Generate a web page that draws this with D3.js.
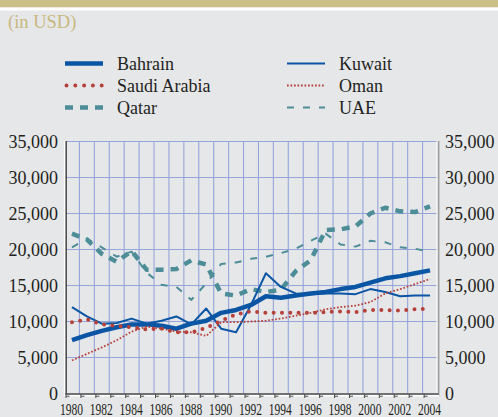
<!DOCTYPE html>
<html>
<head>
<meta charset="utf-8">
<script src="https://cdn.jsdelivr.net/npm/d3@7"></script>
<style>
  body { margin: 0; background: #e6e7e9; }
  svg { display: block; font-family: "Liberation Serif", "Times New Roman", serif; }
</style>
</head>
<body>
<div id="chart"></div>
<script>
// GDP per capita, in USD
var years = [1980, 1981, 1982, 1983, 1984, 1985, 1986, 1987, 1988, 1989, 1990, 1991, 1992,
             1993, 1994, 1995, 1996, 1997, 1998, 1999, 2000, 2001, 2002, 2003, 2004];
var bahrain = [7400, 8100, 8700, 9200, 9600, 9600, 9400, 9000, 9700, 10100, 11200, 11600, 12300,
               13500, 13300, 13600, 13900, 14100, 14500, 14800, 15400, 16000, 16300, 16700, 17100];
var kuwait = [12000, 10700, 9700, 9800, 10400, 9700, 10100, 10700, 9600, 11800, 9000, 8500, 12300,
              16700, 14800, 13900, 13800, 13900, 13900, 13800, 14500, 14100, 13500, 13600, 13600];
var saudi = [9900, 10300, 9600, 9400, 9200, 8900, 9000, 8500, 8500, 9100, 10100, 11000, 11400,
             11200, 11200, 11200, 11200, 11300, 11400, 11300, 11600, 11600, 11500, 11700, 11800];
var oman = [4600, 5500, 6400, 7400, 8600, 9300, 9000, 8600, 8500, 8000, 9900, 9900, 10000,
            10100, 10400, 10800, 11200, 11700, 12000, 12200, 12700, 13900, 14500, 15200, 15900];
var qatar = [22200, 21400, 19400, 18300, 19800, 17200, 17200, 17300, 18500, 17900, 13900, 13600, 14500,
             14100, 14400, 17000, 18500, 22700, 22800, 23200, 25000, 25800, 25300, 25200, 26000];
var uae = [20300, 21500, 20300, 19000, 19700, 16800, 15100, 14800, 13000, 15300, 18000, 18200, 18700,
           19000, 19500, 20100, 21200, 22200, 20700, 20400, 21200, 21000, 20300, 20100, 19700];
var yTicks = [0, 5000, 10000, 15000, 20000, 25000, 30000, 35000];

var blue = "#0b56a4", red = "#b5413a", teal = "#4d8d98";
var series = [
  {name: "Qatar", values: qatar, color: teal, width: 4.5, dash: "8 7", cap: "butt"},
  {name: "UAE", values: uae, color: teal, width: 2, dash: "7 9", cap: "butt"},
  {name: "Bahrain", values: bahrain, color: blue, width: 4.5, dash: null, cap: "butt"},
  {name: "Kuwait", values: kuwait, color: blue, width: 2, dash: null, cap: "butt"},
  {name: "Saudi Arabia", values: saudi, color: red, width: 4, dash: "0 8.3", cap: "round"},
  {name: "Oman", values: oman, color: red, width: 1.8, dash: "1.7 1.8", cap: "butt"}
];

var w = 498, h = 417;
var svg = d3.select("#chart").append("svg")
            .attr("width", w)
            .attr("height", h);

svg.append("rect").attr("width", w).attr("height", h).attr("fill", "#e6e7e9");
svg.append("rect").attr("width", w).attr("height", 7.5).attr("fill", "#cbbe87");
svg.append("rect").attr("y", 7.5).attr("width", w).attr("height", 3).attr("fill", "#ffffff");

svg.append("text")
   .attr("x", 8).attr("y", 28)
   .attr("font-size", 18.5)
   .attr("fill", "#c9b880")
   .text("(in USD)");

// legend
var legendItems = [
  {s: series[2], col: 0, row: 0}, {s: series[4], col: 0, row: 1}, {s: series[0], col: 0, row: 2},
  {s: series[3], col: 1, row: 0}, {s: series[5], col: 1, row: 1}, {s: series[1], col: 1, row: 2}
];
var legend = svg.append("g").attr("class", "legend");
legendItems.forEach(function(d) {
	var lx = d.col == 0 ? 65 : 287;
	var ly = 63.5 + d.row * 22;
	var g = legend.append("g");
	g.append("line")
	 .attr("x1", lx).attr("x2", lx + 38)
	 .attr("y1", ly).attr("y2", ly)
	 .attr("stroke", d.s.color)
	 .attr("stroke-width", d.s.width)
	 .attr("stroke-dasharray", d.s.name == "Saudi Arabia" ? "0 8.8" : d.s.dash)
	 .attr("stroke-dashoffset", d.s.name == "Saudi Arabia" ? -1.5 : 0)
	 .attr("stroke-linecap", d.s.cap);
	g.append("text")
	 .attr("x", lx + 52).attr("y", ly + 6.5)
	 .attr("font-size", 18)
	 .attr("fill", "#231f20")
	 .text(d.s.name);
});

// scales
var x = d3.scaleBand().domain(years).range([64.5, 437.5]);
var y = d3.scaleLinear().domain([0, 35000]).range([393.5, 141.5]);
var cx = function(yr) { return x(yr) + x.bandwidth() / 2; };

// grid
var grid = svg.append("g").attr("stroke", "#95a4da").attr("stroke-width", 1.1);
grid.selectAll(".hg").data(yTicks.slice(1)).enter().append("line")
    .attr("x1", 66).attr("x2", 437.5)
    .attr("y1", d => y(d)).attr("y2", d => y(d));
grid.selectAll(".vg").data(years.slice(1)).enter().append("line")
    .attr("x1", d => x(d)).attr("x2", d => x(d))
    .attr("y1", y(35000)).attr("y2", y(0));

// axes
svg.append("line").attr("x1", 64.5).attr("x2", 64.5).attr("y1", 141).attr("y2", 396)
   .attr("stroke", "#ffffff").attr("stroke-width", 1.2);
svg.append("line").attr("x1", 66.2).attr("x2", 66.2).attr("y1", 141).attr("y2", 394)
   .attr("stroke", "#4a4a4a").attr("stroke-width", 1.5);
svg.append("line").attr("x1", 438.5).attr("x2", 438.5).attr("y1", 141).attr("y2", 396)
   .attr("stroke", "#9a9a9a").attr("stroke-width", 1.8);
svg.append("line").attr("x1", 437).attr("x2", 437).attr("y1", 141).attr("y2", 394)
   .attr("stroke", "#ffffff").attr("stroke-width", 1);
svg.append("line").attr("x1", 65).attr("x2", 439).attr("y1", 395.8).attr("y2", 395.8)
   .attr("stroke", "#ffffff").attr("stroke-width", 1.5);
svg.append("line").attr("x1", 65.5).attr("x2", 438.5).attr("y1", 394).attr("y2", 394)
   .attr("stroke", "#4a4a4a").attr("stroke-width", 1.3);
var ticks = svg.append("g");
ticks.selectAll(".tk").data(years).enter().append("path")
     .attr("d", d => "M" + (x(d) + 1.5) + ",394 V398 M" + (x(d) + 1.5) + ",396.2 H" + (x(d) + 5))
     .attr("stroke", "#4a4a4a").attr("stroke-width", 1).attr("fill", "none");

var fmt = d3.format(",");
svg.append("g").selectAll("text").data(yTicks).enter().append("text")
   .attr("x", 58).attr("y", d => y(d)).attr("dy", "0.35em")
   .attr("text-anchor", "end").attr("font-size", 18).attr("fill", "#231f20")
   .text(d => fmt(d));
svg.append("g").selectAll("text").data(yTicks).enter().append("text")
   .attr("x", 445).attr("y", d => y(d)).attr("dy", "0.35em")
   .attr("text-anchor", "start").attr("font-size", 18).attr("fill", "#231f20")
   .text(d => fmt(d));
// year labels are drawn horizontally condensed, as in the original
svg.append("g").selectAll("text").data(years.filter((d, i) => i % 2 == 0)).enter().append("text")
   .attr("transform", d => "translate(" + (cx(d) - 0.5) + ",414.5) scale(0.68,1)")
   .attr("text-anchor", "middle")
   .attr("font-size", 17).attr("fill", "#231f20")
   .text(d => d);

// lines
var line = d3.line()
             .x((d, i) => cx(years[i]))
             .y(d => y(d));
svg.append("g").selectAll("path").data(series).enter().append("path")
   .attr("d", d => line(d.values))
   .attr("fill", "none")
   .attr("stroke", d => d.color)
   .attr("stroke-width", d => d.width)
   .attr("stroke-dasharray", d => d.dash)
   .attr("stroke-linecap", d => d.cap)
   .attr("stroke-linejoin", "round");
</script>
</body>
</html>
